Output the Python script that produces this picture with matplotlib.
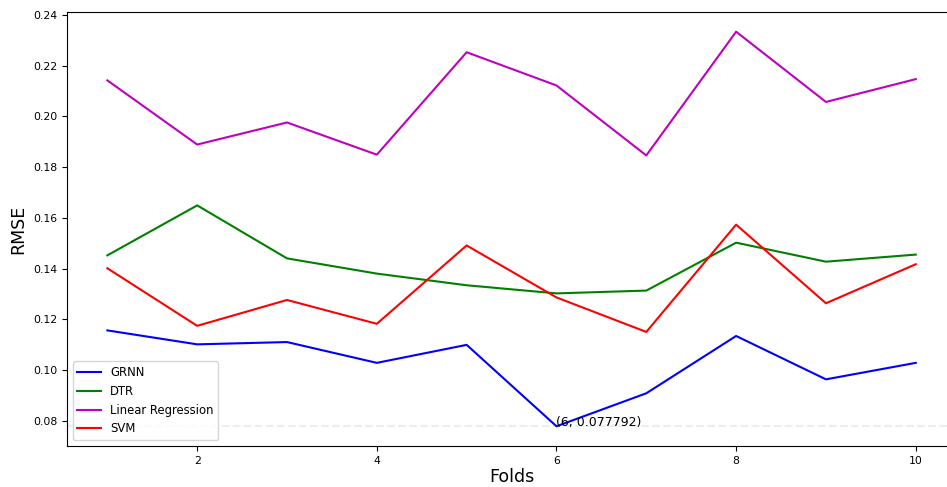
import matplotlib
matplotlib.use("Agg")
import matplotlib.pyplot as plt

# --------------------------------------------------------------
# Data (RMSE per fold)
# --------------------------------------------------------------
folds = [1, 2, 3, 4, 5, 6, 7, 8, 9, 10]
grnn = [0.1156, 0.1101, 0.1110, 0.1028, 0.1099, 0.077792, 0.0908, 0.1134, 0.0963, 0.1028]
dtr = [0.1452, 0.1649, 0.1440, 0.1380, 0.1334, 0.1302, 0.1313, 0.1502, 0.1427, 0.1455]
linreg = [0.2142, 0.1889, 0.1976, 0.1849, 0.2253, 0.2122, 0.1846, 0.2334, 0.2057, 0.2147]
svm = [0.1401, 0.1174, 0.1276, 0.1182, 0.1491, 0.1286, 0.1150, 0.1573, 0.1263, 0.1417]

best_fold = 6
best_rmse = 0.077792

# --------------------------------------------------------------
# Plot
# --------------------------------------------------------------
fig = plt.figure(figsize=(9.47, 4.87), dpi=100)
ax = fig.add_axes([0.0707, 0.0842, 0.939, 0.8912])

ax.plot(folds, grnn, color="b", linewidth=1.5, label="GRNN")
ax.plot(folds, dtr, color="g", linewidth=1.5, label="DTR")
ax.plot(folds, linreg, color="m", linewidth=1.5, label="Linear Regression")
ax.plot(folds, svm, color="r", linewidth=1.5, label="SVM")

ax.axhline(best_rmse, color="g", linestyle="--", alpha=0.1)
ax.annotate(f"({best_fold}, {best_rmse})", xy=(best_fold, best_rmse), fontsize=9)

ax.set_xlabel("Folds", fontsize=12.5, labelpad=2)
ax.set_ylabel("RMSE", fontsize=12.5)
ax.tick_params(labelsize=7.8)
ax.legend(loc="lower left", fontsize=8.4)

fig.savefig("out.png", dpi=100)
